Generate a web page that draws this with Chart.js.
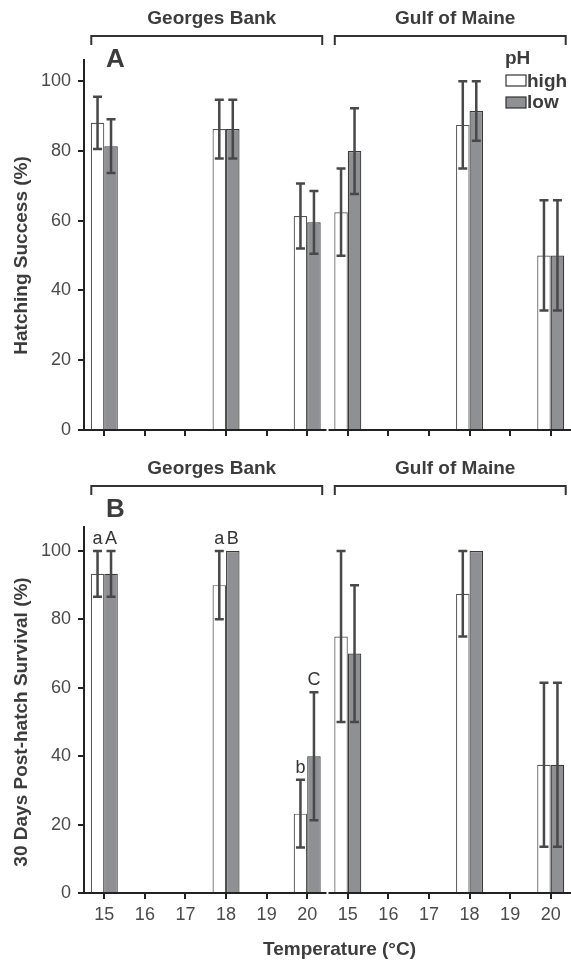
<!DOCTYPE html>
<html>
<head>
<meta charset="utf-8">
<script src="https://cdn.jsdelivr.net/npm/chart.js@4"></script>
<style>
  html, body { margin:0; padding:0; background:#fff; }
  #wrap { position:relative; width:571px; height:964px; }
  canvas { position:absolute; left:0; }
  #chartA { top:0; }
  #chartB { top:450px; }
</style>
</head>
<body>
<div id="wrap">
  <canvas id="chartA" width="571" height="450"></canvas>
  <canvas id="chartB" width="571" height="514"></canvas>
</div>
<script>
// Data
const temps = ['15', '16', '17', '18', '19', '20'];
const labels = temps.concat(temps); // Georges Bank, then Gulf of Maine
const regions = ['Georges Bank', 'Gulf of Maine'];

// A: hatching success (%)
const hatchHigh    = [88.0, null, null, 86.2, null, 61.3, 62.4, null, null, 87.4, null, 50.0];
const hatchHighErr = [7.5, null, null, 8.4, null, 9.3, 12.5, null, null, 12.5, null, 15.8];
const hatchLow     = [81.3, null, null, 86.2, null, 59.5, 79.9, null, null, 91.4, null, 50.0];
const hatchLowErr  = [7.7, null, null, 8.4, null, 9.0, 12.3, null, null, 8.5, null, 15.8];

// B: 30 days post-hatch survival (%)
const survHigh    = [93.3, null, null, 90.0, null, 23.2, 75.0, null, null, 87.5, null, 37.5];
const survHighErr = [6.7, null, null, 10.0, null, 9.9, 25.0, null, null, 12.5, null, 24.0];
const survLow     = [93.3, null, null, 100, null, 40.0, 70.0, null, null, 100, null, 37.5];
const survLowErr  = [6.7, null, null, 0, null, 18.7, 20.0, null, null, 0, null, 24.0];
const survHighLetters = ['a', '', '', 'a', '', 'b', '', '', '', '', '', ''];
const survLowLetters  = ['A', '', '', 'B', '', 'C', '', '', '', '', '', ''];

const FONT = '"Liberation Sans", Arial, sans-serif';
const INK = '#3c3c3c';
const AXIS = '#222';
const GREY = '#8f9094';

// error bars drawn from the y scale
const errorBars = {
  id: 'errorBars',
  afterDatasetsDraw(chart, args, opts) {
    const ctx = chart.ctx, y = chart.scales.y;
    chart.data.datasets.forEach((ds, di) => {
      const meta = chart.getDatasetMeta(di);
      opts.errors[di].forEach((e, i) => {
        const v = ds.data[i];
        if (v == null || !e) return;
        const bx = meta.data[i].x;
        const top = y.getPixelForValue(v + e), bot = y.getPixelForValue(v - e);
        ctx.save();
        ctx.strokeStyle = '#484848';
        ctx.lineWidth = 2.5;
        ctx.beginPath();
        ctx.moveTo(bx, top); ctx.lineTo(bx, bot);
        ctx.moveTo(bx - 4.5, top); ctx.lineTo(bx + 4.5, top);
        ctx.moveTo(bx - 4.5, bot); ctx.lineTo(bx + 4.5, bot);
        ctx.stroke();
        ctx.restore();
      });
    });
  }
};

// headers, brackets, panel letter, titles, legend, significance letters
const decor = {
  id: 'decor',
  afterDraw(chart, args, o) {
    const ctx = chart.ctx, x = chart.scales.x, y = chart.scales.y;
    ctx.save();

    // small break in the x axis between the regions
    const gx = x.getPixelForValue(5.5);
    ctx.fillStyle = '#fff';
    ctx.fillRect(gx - 1, y.bottom - 2, 2, 5);

    ctx.fillStyle = INK;
    ctx.strokeStyle = '#333';
    ctx.lineWidth = 2;
    ctx.font = 'bold 19px ' + FONT;
    ctx.textAlign = 'center';
    ctx.textBaseline = 'middle';
    regions.forEach((r, k) => {
      const l = x.getPixelForValue(k * 6) - 13;
      const rr = x.getPixelForValue(k * 6 + 5) + 15;
      ctx.beginPath();
      ctx.moveTo(l, 45); ctx.lineTo(l, 36); ctx.lineTo(rr, 36); ctx.lineTo(rr, 45);
      ctx.stroke();
      ctx.fillText(r, (l + rr) / 2 + 5, 19);
    });

    // panel letter
    ctx.font = 'bold 26px ' + FONT;
    ctx.textAlign = 'left';
    ctx.textBaseline = 'alphabetic';
    ctx.fillText(o.letter, 106, 67);

    // y title
    ctx.save();
    ctx.translate(27, (y.getPixelForValue(0) + y.getPixelForValue(100)) / 2);
    ctx.rotate(-Math.PI / 2);
    ctx.font = 'bold 19px ' + FONT;
    ctx.textAlign = 'center';
    ctx.fillText(o.yTitle, 0, 0);
    ctx.restore();

    // x title
    if (o.xTitle) {
      ctx.font = 'bold 19px ' + FONT;
      ctx.textAlign = 'center';
      ctx.textBaseline = 'middle';
      ctx.fillText(o.xTitle, (x.left + x.right) / 2 + 12, chart.height - 14);
    }

    // legend
    if (o.legend) {
      ctx.textAlign = 'left';
      ctx.textBaseline = 'alphabetic';
      ctx.font = 'bold 19px ' + FONT;
      ctx.fillText('pH', 505, 64);
      ctx.lineWidth = 1.2;
      ctx.fillStyle = '#fff';
      ctx.fillRect(506, 75, 20, 11);
      ctx.strokeRect(506, 75, 20, 11);
      ctx.fillStyle = GREY;
      ctx.fillRect(506, 97, 20, 11);
      ctx.strokeRect(506, 97, 20, 11);
      ctx.fillStyle = INK;
      ctx.fillText('high', 527, 87);
      ctx.fillText('low', 527, 108);
    }

    // significance letters above the error bars
    if (o.marks) {
      ctx.font = '18px ' + FONT;
      ctx.textAlign = 'center';
      ctx.textBaseline = 'alphabetic';
      ctx.fillStyle = '#333';
      o.marks.forEach((m, di) => {
        const meta = chart.getDatasetMeta(di);
        const ds = chart.data.datasets[di];
        m.forEach((t, i) => {
          if (!t) return;
          const v = ds.data[i] + (o.errs[di][i] || 0);
          ctx.fillText(t, meta.data[i].x, y.getPixelForValue(v) - 7);
        });
      });
    }
    ctx.restore();
  }
};

function makePanel(id, high, low, highErr, lowErr, yMax, padTop, xHeight, showX, extra) {
  return new Chart(document.getElementById(id), {
    type: 'bar',
    data: {
      labels: labels,
      datasets: [
        { label: 'high', data: high, backgroundColor: '#ffffff', borderColor: '#555', borderWidth: 1.2 },
        { label: 'low', data: low, backgroundColor: GREY, borderColor: '#3a3a3a', borderWidth: 1.2 }
      ]
    },
    options: {
      responsive: false,
      animation: false,
      categoryPercentage: 0.665,
      barPercentage: 1,
      layout: { padding: { top: padTop, left: 0, right: 0, bottom: 0 } },
      scales: {
        x: {
          offset: true,
          grid: { display: true, drawOnChartArea: false, drawTicks: true, tickLength: 6, offset: false, color: AXIS, lineWidth: 2 },
          border: { display: true, color: AXIS, width: 2 },
          ticks: { display: showX, padding: 5, color: '#4a4a4a', font: { family: FONT, size: 18 }, maxRotation: 0, autoSkip: false },
          afterFit(s) { s.height = xHeight; }
        },
        y: {
          min: 0,
          max: yMax,
          grid: { display: true, drawOnChartArea: false, drawTicks: true, tickLength: 6, color: AXIS, lineWidth: 2 },
          border: { display: true, color: AXIS, width: 2 },
          ticks: { stepSize: 20, includeBounds: false, padding: 7, color: '#4a4a4a', font: { family: FONT, size: 18 } },
          afterFit(s) { s.width = 84; }
        }
      },
      plugins: {
        legend: { display: false },
        tooltip: { enabled: false },
        errorBars: { errors: [highErr, lowErr] },
        decor: extra
      }
    },
    plugins: [errorBars, decor]
  });
}

makePanel('chartA', hatchHigh, hatchLow, hatchHighErr, hatchLowErr, 106, 60, 20, false,
  { letter: 'A', yTitle: 'Hatching Success (%)', legend: true });

makePanel('chartB', survHigh, survLow, survHighErr, survLowErr, 107, 77, 71, true,
  { letter: 'B', yTitle: '30 Days Post-hatch Survival (%)', xTitle: 'Temperature (°C)',
    marks: [survHighLetters, survLowLetters], errs: [survHighErr, survLowErr] });
</script>
</body>
</html>
